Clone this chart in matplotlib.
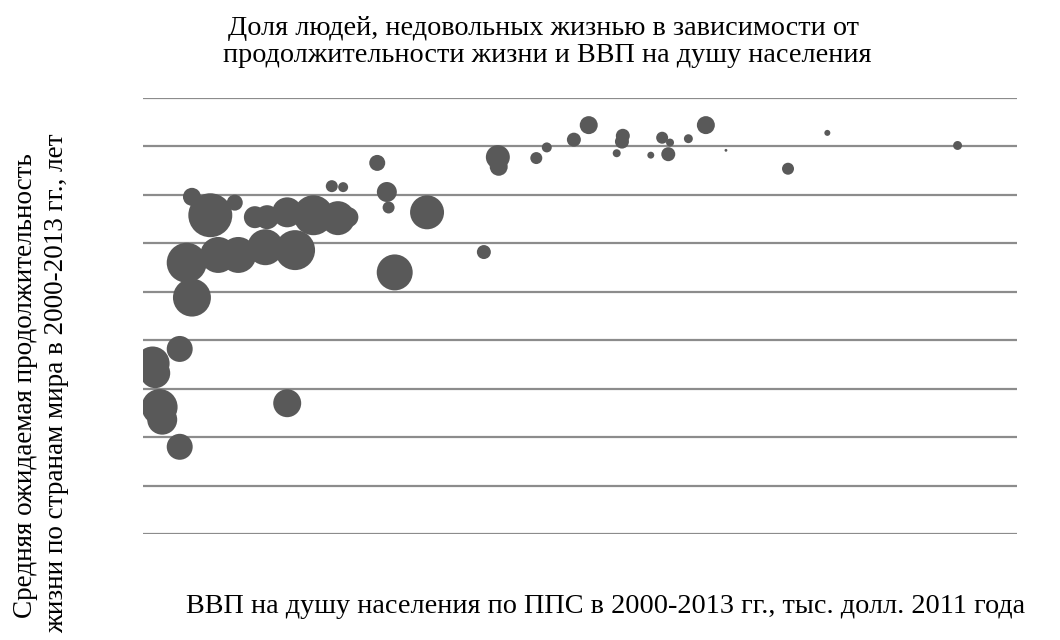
import matplotlib
matplotlib.use('Agg')
import matplotlib.pyplot as plt
import numpy as np

plt.rcParams['font.family'] = ['Liberation Serif', 'DejaVu Serif']

# ВВП на душу населения, тыс. долл. 2011 г.
gdp = [5.6, 7.7, 10.5, 12.8, 14.2, 16.5, 19.5, 22.3, 23.5,
       5.0, 8.6, 10.9, 14.0, 17.4, 5.6,
       21.6, 22.9, 27.9, 28.1, 32.5, 28.8, 26.8,
       4.2, 1.1, 1.4, 1.9, 2.2, 4.2, 16.5,
       40.6, 40.7, 45.0, 46.2, 49.3, 51.0, 54.9, 54.8, 54.2, 58.1,
       59.4, 60.3, 60.1, 62.4, 64.4, 66.7, 39.0, 73.8, 78.3, 93.2]
# ожидаемая продолжительность жизни, лет
life = [74.8, 72.9, 74.2, 72.7, 72.7, 73.2, 72.9, 72.6, 72.7,
        68.0, 68.8, 68.8, 69.6, 69.3, 64.4,
        75.9, 75.8, 75.3, 73.7, 73.2, 67.0, 78.3,
        59.1, 57.6, 56.6, 53.1, 51.8, 49.0, 53.5,
        78.9, 77.9, 78.8, 79.9, 80.7, 82.2, 81.1, 80.5, 79.3, 79.1,
        80.9, 80.4, 79.2, 80.8, 82.2, 79.6, 69.1, 77.7, 81.4, 80.1]
# доля недовольных жизнью, %
unhappy = [8.1, 48.4, 6.4, 12.1, 14.4, 22.5, 40.0, 28.9, 10.0,
           40.0, 32.4, 32.4, 32.4, 40.0, 36.1,
           3.6, 2.5, 10.0, 3.6, 28.9, 32.4, 6.4,
           16.9, 28.9, 22.5, 32.4, 22.5, 16.9, 19.6,
           14.4, 8.1, 3.6, 2.5, 4.9, 8.1, 4.9, 4.9, 1.6, 1.2,
           3.6, 1.6, 4.9, 2.0, 8.1, 0.2, 4.9, 3.6, 0.9, 2.0]

fig = plt.figure(figsize=(10.6, 6.4), dpi=100)
ax = fig.add_axes([143 / 1060, 106 / 640, 874 / 1060, 436 / 640])

ax.scatter(gdp, life, s=np.array(unhappy) * 20.7, color='#595959',
           edgecolors='none', zorder=3)

ax.set_xlim(0, 100)
ax.set_ylim(40, 85)
ax.set_yticks(np.arange(40, 86, 5))
ax.set_xticks([])
ax.yaxis.grid(True, color='#8c8c8c', linewidth=1.6)
ax.tick_params(left=False, labelleft=False)
for sp in ax.spines.values():
    sp.set_visible(False)

fs = 20.3
# заголовок
fig.text(544 / 1060, 1 - 35 / 640, 'Доля людей, недовольных жизнью в зависимости от',
         ha='center', va='baseline', fontsize=fs)
fig.text(547 / 1060, 1 - 62 / 640, 'продолжительности жизни и ВВП на душу населения',
         ha='center', va='baseline', fontsize=fs)
# подпись оси X
fig.text(606 / 1060, 1 - 613 / 640,
         'ВВП на душу населения по ППС в 2000-2013 гг., тыс. долл. 2011 года',
         ha='center', va='baseline', fontsize=fs)
# подпись оси Y (в оригинале обрезана снизу, здесь чуть меньше, чтобы влезла)
fig.text(26 / 1060, 1 - 386 / 640, 'Средняя ожидаемая продолжительность',
         ha='center', va='center', rotation=90, fontsize=19.5)
fig.text(57 / 1060, 1 - 383 / 640, 'жизни по странам мира в 2000-2013 гг., лет',
         ha='center', va='center', rotation=90, fontsize=19.5)

fig.savefig('out.png', dpi=100)
